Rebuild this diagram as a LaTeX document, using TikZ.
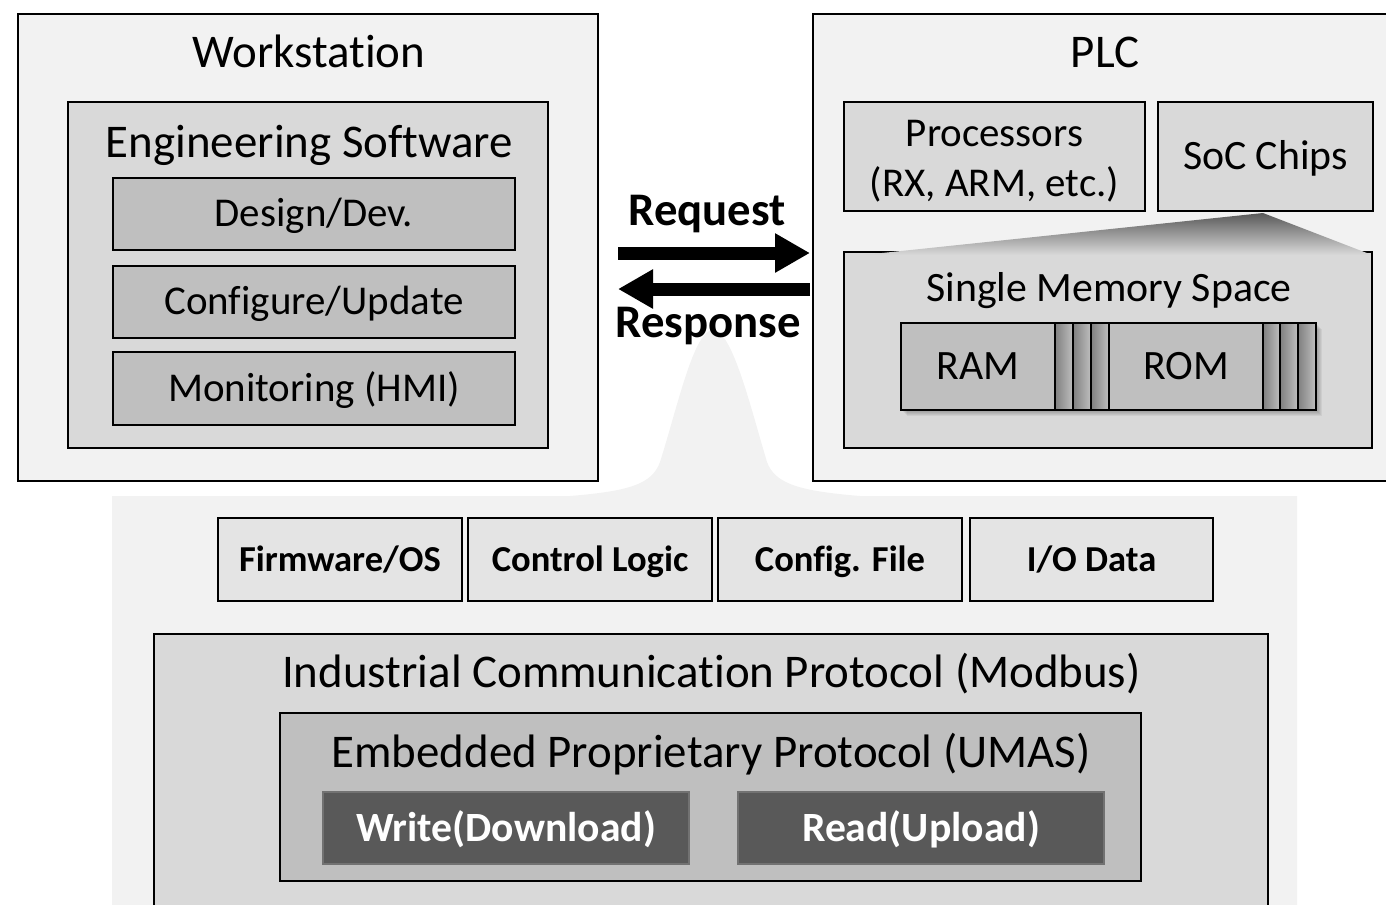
\documentclass[tikz,border=0pt]{standalone}
\usepackage{fontspec}
\setmainfont{Carlito}[Ligatures=NoCommon]
\usetikzlibrary{arrows.meta,fit}

\definecolor{cOuter}{HTML}{F2F2F2}
\definecolor{cMid}{HTML}{D9D9D9}
\definecolor{cInner}{HTML}{BFBFBF}
\definecolor{cData}{HTML}{E4E4E4}
\definecolor{cDark}{HTML}{595959}
\definecolor{cStripe}{HTML}{808080}

\newcommand\fsTitle{\fontsize{26.7}{31}\selectfont}
\newcommand\fsBig{\fontsize{26.7}{31}\selectfont}
\newcommand\fsItem{\fontsize{23.3}{28}\selectfont}
\newcommand\fsMem{\fontsize{23.8}{28}\selectfont}
\newcommand\fsData{\fontsize{20.8}{24}\selectfont\bfseries}
\newcommand\fsRW{\fontsize{23.7}{28}\selectfont\bfseries}
\newcommand\fsReq{\fontsize{26.6}{31}\selectfont\bfseries}

\begin{document}
\begin{tikzpicture}[x=0.02cm,y=-0.02cm,
  sz/.style 2 args={minimum width=#1*0.02cm, minimum height=#2*0.02cm},
  frame/.style={draw=black, line width=1.6pt, inner sep=0pt, rectangle},
  outerbox/.style={frame, fill=cOuter},
  midbox/.style={frame, fill=cMid},
  innerbox/.style={frame, fill=cInner, font=\fsItem, text height=14.7pt, text depth=0pt},
  membox/.style={frame, fill=cInner, font=\fsMem, text height=15pt, text depth=0pt},
  databox/.style={frame, fill=cData, font=\fsData, text height=13.1pt, text depth=0pt},
  rwbox/.style={draw=cDark!85!white, line width=0.6pt, fill=cDark, inner sep=0pt, text=white, font=\fsRW, text height=15pt, text depth=0pt},
  stripe/.style={draw=black, line width=1.6pt, left color=cStripe, right color=cInner},
  txt/.style={inner sep=0pt, anchor=base},
  bigarrow/.style={line width=7.4pt, -{Triangle[length=0.70cm, width=0.74cm]}},
]
\useasboundingbox (0,0) rectangle (1386,904);
\clip (0,0) rectangle (1386,904);

% bottom panel with bell-shaped pointer
\fill[cOuter] (112,496) -- (570,496) .. controls (630,491) and (652,484) .. (660,462)
  .. controls (678,405) and (694,330) .. (713,330)
  .. controls (732,330) and (750,405) .. (767,462)
  .. controls (775,484) and (800,491) .. (860,496) -- (1297,496) -- (1297,920) -- (112,920) -- cycle;

% Workstation
\node[outerbox, fit={(18,14) (598,481)}] (ws) {};
\node[txt, font=\fsTitle] (wst) at (309,67) {Workstation};
\node[midbox, fit={(68,102) (548,448)}] (es) {};
\node[txt, font=\fsBig] (est) at (309.5,157) {Engineering Software};
\node[innerbox, sz={402}{72}] (dd) at (314,214) {Design/Dev.};
\node[innerbox, sz={402}{72}] (cu) at (314,302) {Configure/Update};
\node[innerbox, sz={402}{73}] (mon) at (314,388.5) {Monitoring (HMI)};

% PLC
\node[outerbox, fit={(813,14) (1430,481)}] (plc) {};
\node[txt, font=\fsTitle] (plct) at (1105,67) {PLC};
\node[midbox, fit={(844,102) (1145,211)}] (proc) {};
\node[txt, font=\fsItem] (proct1) at (994.5,146) {Processors};
\node[txt, font=\fsItem] (proct2) at (994.5,196) {(RX, ARM, etc.)};
\node[midbox, sz={215}{109}, font=\fsMem, text height=15pt, text depth=0pt] (soc) at (1265.5,156.5) {SoC Chips};
\node[midbox, fit={(844,252) (1372,448)}] (mem) {};
\shade[top color=cDark, bottom color=cMid] (1263,213) -- (1372,255) -- (863,255) -- cycle;
\draw[line width=1.6pt] (1372,252) -- (1372,262);
\node[txt, font=\fsMem] (memt) at (1109,301) {Single Memory Space};

% memory bar with soft shadow
\foreach \i in {1,...,6}
  \fill[black, opacity=0.05] (901+\i,323+\i) rectangle (1316+\i,410+\i);
\node[membox, sz={154}{87}] (ram) at (978,366.5) {RAM};
\draw[stripe] (1055,323) rectangle (1073,410);
\draw[stripe] (1073,323) rectangle (1091,410);
\draw[stripe] (1091,323) rectangle (1109,410);
\node[membox, sz={154}{87}] (rom) at (1186,366.5) {ROM};
\draw[stripe] (1263,323) rectangle (1280,410);
\draw[stripe] (1280,323) rectangle (1298,410);
\draw[stripe] (1298,323) rectangle (1316,410);

% Request / Response
\node[txt, font=\fsReq] (req) at (707,225) {Request};
\node[txt, font=\fsReq] (resp) at (708,337) {Response};
\coordinate (reqS) at (618,253);
\coordinate (reqE) at (810,253);
\coordinate (resS) at (810,289);
\coordinate (resE) at (618,289);
\draw[bigarrow] (reqS) -- (reqE);
\draw[bigarrow] (resS) -- (resE);

% data boxes
\node[databox, sz={244}{83}] (fw) at (340,559.5) {Firmware/OS};
\node[databox, sz={244}{83}] (cl) at (590,559.5) {Control Logic};
\node[databox, sz={244}{83}] (cf) at (840,559.5) {Config. File};
\node[databox, sz={243}{83}] (io) at (1091.5,559.5) {I/O Data};

% protocols
\node[midbox, fit={(154,634) (1268,940)}] (icp) {};
\node[txt, font=\fsBig] (icpt) at (711.5,687) {Industrial Communication Protocol (Modbus)};
\node[frame, fill=cInner, fit={(280,713) (1141,881)}] (epp) {};
\node[txt, font=\fsBig] (eppt) at (711,767) {Embedded Proprietary Protocol (UMAS)};
\node[rwbox, sz={366}{72}] (wr) at (506,828) {Write(Download)};
\node[rwbox, sz={366}{72}] (rd) at (921,828) {Read(Upload)};
\end{tikzpicture}
\end{document}
